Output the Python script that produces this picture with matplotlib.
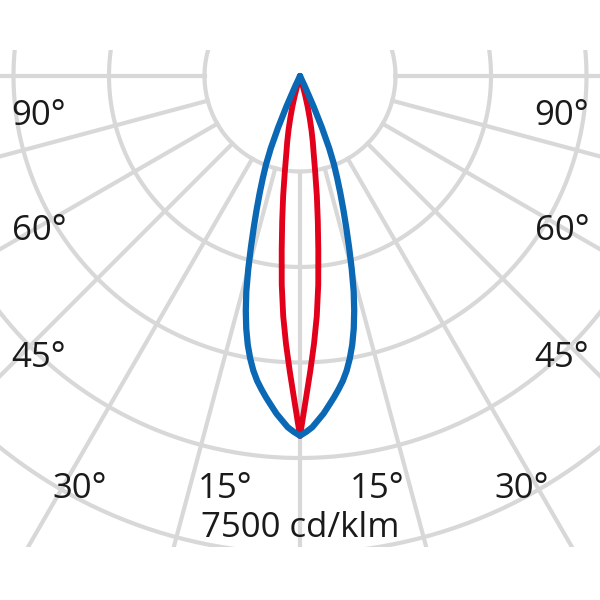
import matplotlib.pyplot as plt
from matplotlib.patches import Rectangle
import numpy as np

plt.rcParams['font.family'] = ['Open Sans', 'DejaVu Sans']

# Luminous intensity (cd/klm) against angle from nadir, symmetric about 0
angles_c0 = [0, 1, 2, 3, 4, 5, 6, 7, 8, 9, 10, 11, 12, 13,
             14, 15, 16, 17, 18, 19, 20, 21, 22, 23, 24, 25, 26]
cd_c0 = [5650, 5590, 5520, 5415, 5315, 5195, 5080, 4960, 4835, 4685, 4505, 4300, 4060, 3785,
         3485, 3140, 2795, 2480, 2200, 1945, 1710, 1490, 1225, 880, 520, 190, 0]

angles_c90 = [0, 1, 2, 3, 4, 5, 6, 7, 8, 9, 10, 11, 12, 13, 14, 15, 16, 17]
cd_c90 = [5655, 5095, 4635, 4210, 3780, 3290, 2750, 2295, 1900, 1525, 1240,
          1050, 865, 675, 500, 315, 125, 0]

ring_values = [1500, 3000, 4500, 6000, 7500, 9000]
spoke_angles = [-90, -75, -60, -45, -30, -15, 0, 15, 30, 45, 60, 75, 90]

angle_labels = ['90°', '60°', '45°', '30°', '15°', '15°', '30°', '45°', '60°', '90°']
scale_label = '7500 cd/klm'

# layout (pixels of the 600x600 image)
label_px = [(39, 125), (39, 240), (39, 367), (80, 498), (225, 498),
            (377, 498), (522, 498), (562, 367), (562, 240), (562, 125)]
scale_px = (300, 537)
center_px = (300, 76)
ring_px = 95.5
clip_top, clip_bottom = 50, 547

blue = '#0a68b4'
red = '#e2001a'
grey = '#d8d8d8'

k = ring_values[0] / ring_px  # cd/klm per pixel

fig = plt.figure(figsize=(6, 6), dpi=100)
ax = fig.add_axes([0, 0, 1, 1])
ax.set_xlim(-center_px[0] * k, (600 - center_px[0]) * k)
ax.set_ylim(-(600 - center_px[1]) * k, center_px[1] * k)
ax.axis('off')

clip = Rectangle((-center_px[0] * k, -(clip_bottom - center_px[1]) * k),
                 600 * k, (clip_bottom - clip_top) * k, transform=ax.transData)

t = np.linspace(0, 2 * np.pi, 721)
for rv in ring_values:
    ln, = ax.plot(rv * np.cos(t), rv * np.sin(t), color=grey, lw=3.0, zorder=1)
    ln.set_clip_path(clip)

for a in spoke_angles:
    th = np.radians(a)
    r = np.array([ring_values[0], 12000])
    ln, = ax.plot(r * np.sin(th), -r * np.cos(th), color=grey, lw=3.0, zorder=1)
    ln.set_clip_path(clip)


def curve(angles, vals):
    a = np.radians(np.concatenate([-np.array(angles[::-1]), np.array(angles[1:])]))
    r = np.concatenate([np.array(vals[::-1]), np.array(vals[1:])])
    return r * np.sin(a), -r * np.cos(a)


x, y = curve(angles_c90, cd_c90)
ax.plot(x, y, color=red, lw=4.2, solid_joinstyle='round', solid_capstyle='round', zorder=3)
x, y = curve(angles_c0, cd_c0)
ax.plot(x, y, color=blue, lw=4.5, solid_joinstyle='round', solid_capstyle='round', zorder=4)

for lab, (px, py) in zip(angle_labels, label_px):
    fig.text(px / 600, 1 - py / 600, lab, ha='center', va='baseline',
             fontsize=25, color='#1a1a1a')
fig.text(scale_px[0] / 600, 1 - scale_px[1] / 600, scale_label, ha='center',
         va='baseline', fontsize=25, color='#1a1a1a')

fig.savefig('out.png', dpi=100)
